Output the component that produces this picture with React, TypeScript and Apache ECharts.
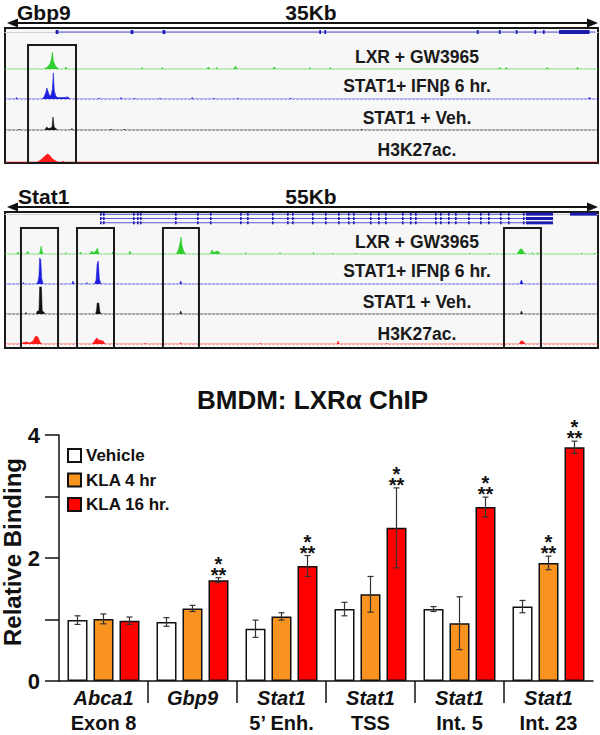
import React, { useEffect, useRef } from "react";
import * as echarts from "echarts";

const FONT = "'Liberation Sans', Arial, Helvetica, sans-serif";

// ---------------- Genome browser: Gbp9 locus (35 kb window) ----------------
const gbp9WindowKb = 35;
const gbp9Highlights = [[1.36, 4.19]];
const gbp9GeneSpan = [2.95, 34.82];
const gbp9Exons = [[3.0, 3.15], [7.42, 7.58], [9.3, 9.46], [18.55, 18.65], [18.85, 18.95], [27.85, 27.95], [29.15, 29.25], [30.15, 30.25], [31.25, 31.35], [31.75, 31.85], [32.7, 34.5]];
const gbp9Lxr = [[0,0],[2.3,0],[2.5,2],[2.65,5],[2.74,10],[2.8,17],[2.86,8],[2.98,3],[3.1,1],[3.2,0],[3.52,0],[3.6,2],[3.68,0],[8.05,0],[8.1,1.5],[8.15,0],[9.25,0],[9.3,1.5],[9.35,0],[11.9,0],[12.0,2],[12.1,0],[12.45,0],[12.5,1.5],[12.55,0],[13.5,0],[13.6,3],[13.7,0],[15.8,0],[15.9,2],[16.0,0],[17.95,0],[18.0,1.5],[18.05,0],[19.15,0],[19.2,1.5],[19.25,0],[29.1,0],[29.2,1.5],[29.3,0],[29.5,0],[29.6,1.5],[29.7,0],[31.9,0],[32.0,1.5],[32.1,0],[33.7,0],[33.8,1.5],[33.9,0],[35,0]];
const gbp9Stat1Ifn = [[0,0],[0.62,0],[0.68,1.5],[0.74,0],[2.2,0],[2.3,2],[2.4,6],[2.47,11],[2.55,7],[2.63,3],[2.72,4],[2.8,10],[2.85,26],[2.91,8],[3.0,3],[3.1,1.5],[3.5,1.5],[3.7,2],[3.85,0],[5.5,0],[5.55,1],[5.6,0],[6.8,0],[6.85,1.5],[6.9,0],[7.6,0],[7.65,1],[7.7,0],[9.1,0],[9.15,1],[9.2,0],[11.0,0],[11.05,1.5],[11.1,0],[12.3,0],[12.35,1],[12.4,0],[13.7,0],[13.75,1],[13.8,0],[16.8,0],[16.85,1],[16.9,0],[34.4,0],[34.5,1.5],[34.6,0],[35,0]];
const gbp9Stat1Veh = [[0,0],[0.8,0],[0.85,1],[0.9,0],[2.35,0],[2.46,3],[2.56,1.5],[2.7,2],[2.78,3],[2.83,13],[2.9,3],[3.0,1.5],[3.1,0],[3.9,0],[3.95,1.5],[4.0,0],[6.2,0],[6.25,1],[6.3,0],[7.0,0],[7.05,1],[7.1,0],[21.0,0],[21.05,1],[21.1,0],[35,0]];
const gbp9H3k27ac = [[0,0],[1.9,0],[2.1,2],[2.3,5],[2.5,8],[2.62,7],[2.8,3],[3.0,1],[3.13,0],[3.35,0],[3.42,1],[3.5,0],[35,0]];

// ---------------- Genome browser: Stat1 locus (55 kb window) ----------------
const stat1WindowKb = 55;
const stat1Highlights = [[1.48, 4.92], [6.68, 10.11], [14.65, 17.99], [46.28, 49.71]];
const stat1GeneSpan = [8.81, 48.32];
const stat1Transcripts = [0, 1, 2];
const stat1ExonPos = [8.81, 9.09, 11.87, 12.24, 12.52, 15.77, 17.81, 19.01, 21.8, 22.45, 24.76, 26.16, 26.62, 28.47, 29.68, 30.89, 31.81, 32.28, 33.85, 34.6, 35.25, 36.82, 37.56, 38.03, 39.88, 40.35, 41.09, 41.74, 42.95, 44.06, 44.8, 45.91, 46.65, 48.04];
const stat1LastExon = [48.32, 50.83];
const stat1NeighbourGene = [52.4, 54.9];
const stat1Lxr = [[0,0],[1.1,0],[1.2,2],[1.3,0],[2.0,0],[2.1,3],[2.2,0],[3.15,0],[3.25,2],[3.3,5],[3.36,8],[3.42,3],[3.55,0],[5.6,0],[5.65,1.5],[5.7,0],[6.9,0],[7.0,2],[7.1,0],[7.85,0],[8.05,3],[8.2,1],[8.5,4],[8.58,6],[8.66,2],[8.75,0],[9.9,0],[10.0,2],[10.1,0],[11.5,0],[11.6,3],[11.7,0],[15.9,0],[16.1,5],[16.25,12],[16.33,17],[16.42,8],[16.6,2],[16.8,0],[19.05,0],[19.2,4],[19.35,1.5],[19.7,3],[19.85,2],[19.95,0],[22.3,0],[22.35,1.5],[22.4,0],[25.45,0],[25.5,1.5],[25.55,0],[28.55,0],[28.6,1.5],[28.65,0],[30.35,0],[30.4,1],[30.45,0],[32.45,0],[32.5,1],[32.55,0],[43.05,0],[43.1,1],[43.15,0],[44.95,0],[45.0,1],[45.05,0],[47.5,0],[47.65,3],[47.8,5],[47.95,5],[48.1,2],[48.3,0],[48.85,0],[48.9,1.5],[48.95,0],[49.35,0],[49.4,1.5],[49.45,0],[53.45,0],[53.5,1],[53.55,0],[54.65,0],[54.7,1],[54.75,0],[55,0]];
const stat1Stat1Ifn = [[0,0],[1.65,0],[1.7,1.5],[1.75,0],[2.9,0],[3.05,2],[3.15,8],[3.22,26],[3.32,24],[3.4,6],[3.5,1],[3.6,0],[6.2,0],[6.3,3],[6.4,0],[7.55,0],[7.6,1.5],[7.65,0],[8.3,0],[8.45,4],[8.55,20],[8.65,23],[8.75,5],[8.9,0],[16.2,0],[16.3,3],[16.4,0],[47.75,0],[47.9,4],[48.05,0],[55,0]];
const stat1Stat1Veh = [[0,0],[1.9,0],[1.95,1.5],[2.0,0],[2.9,0],[3.0,3],[3.15,3],[3.22,27],[3.38,27],[3.45,3],[3.6,2],[3.7,0],[8.4,0],[8.5,4],[8.55,11],[8.7,11],[8.78,3],[8.9,0],[16.2,0],[16.3,3],[16.4,0],[47.8,0],[47.9,3],[48.0,0],[55,0]];
const stat1H3k27ac = [[0,0],[1.5,0],[1.7,1.5],[2.0,2],[2.3,1],[2.6,3],[2.85,8],[3.05,7],[3.25,2],[3.4,0],[8.1,0],[8.3,3],[8.5,6],[8.7,4],[9.1,3],[9.3,0],[12.95,0],[13.0,1],[13.05,0],[16.25,0],[16.3,1.5],[16.35,0],[23.65,0],[23.7,1],[23.75,0],[30.8,0],[30.9,3],[31.0,0],[35.35,0],[35.4,1],[35.45,0],[47.7,0],[47.85,3],[48.0,3],[48.15,1.5],[48.3,0],[55,0]];

const trackNames = ["LXR + GW3965", "STAT1+ IFN\u03b2 6 hr.", "STAT1 + Veh.", "H3K27ac."];
const trackColors = ["#2fcf2f", "#1f1fe0", "#111111", "#ff1a1a"];

// ---------------- Bar chart ----------------
const geneNames = ["Abca1", "Gbp9", "Stat1", "Stat1", "Stat1", "Stat1"];
const regionNames = ["Exon 8", "", "5\u2019 Enh.", "TSS", "Int. 5", "Int. 23"];
const seriesNames = ["Vehicle", "KLA 4 hr", "KLA 16 hr."];
const vehicle = [0.99, 0.96, 0.85, 1.17, 1.17, 1.21];
const vehicleErr = [0.07, 0.07, 0.14, 0.11, 0.04, 0.1];
const kla4 = [1.01, 1.18, 1.05, 1.41, 0.94, 1.92];
const kla4Err = [0.08, 0.05, 0.06, 0.29, 0.43, 0.11];
const kla16 = [0.98, 1.64, 1.87, 2.49, 2.83, 3.8];
const kla16Err = [0.06, 0.04, 0.17, 0.65, 0.16, 0.1];
const kla4Sig = [false, false, false, false, false, true];
const kla16Sig = [false, true, true, true, true, true];
const yTickLabels = [0, 2, 4];

const barColors = ["#ffffff", "#f7931e", "#ff0000"];

function buildOption() {
  const grids: any[] = [];
  const xAxes: any[] = [];
  const yAxes: any[] = [];
  const series: any[] = [];
  const graphics: any[] = [];

  const addGrid = (g: any, x: any, y: any) => {
    grids.push(g);
    xAxes.push({ ...x, gridIndex: grids.length - 1 });
    yAxes.push({ ...y, gridIndex: grids.length - 1 });
    return grids.length - 1;
  };

  const panel = (cfg: any) => {
    const L = 5, W = 593;
    graphics.push({ type: "rect", z: 0, shape: { x: L, y: cfg.frameTop, width: W, height: cfg.frameH }, style: { fill: "#f7f7f7", stroke: "#1a1a1a", lineWidth: 2 } });
    graphics.push({ type: "text", x: cfg.nameX, y: cfg.headerY, style: { text: cfg.name, font: `bold 21px ${FONT}`, fill: "#111", align: "left", verticalAlign: "middle" } });
    graphics.push({ type: "text", x: 311, y: cfg.headerY, style: { text: cfg.span, font: `bold 21px ${FONT}`, fill: "#111", align: "center", verticalAlign: "middle" } });
    const ay = cfg.arrowY;
    graphics.push({ type: "line", shape: { x1: 14, y1: ay, x2: 590, y2: ay }, style: { stroke: "#111", lineWidth: 2 } });
    graphics.push({ type: "polygon", shape: { points: [[7, ay], [18, ay - 4.5], [18, ay + 4.5]] }, style: { fill: "#111" } });
    graphics.push({ type: "polygon", shape: { points: [[598, ay], [587, ay - 4.5], [587, ay + 4.5]] }, style: { fill: "#111" } });

    const rows = cfg.rows;
    const gi = addGrid(
      { left: L, width: W, top: cfg.geneTop, height: cfg.geneH },
      { type: "value", min: 0, max: cfg.window, axisLine: { show: true, lineStyle: { color: "#cfcfd8", width: 1 } }, axisTick: { show: false }, axisLabel: { show: false }, splitLine: { show: false } },
      { type: "value", min: -0.5, max: rows - 0.5, inverse: true, show: false }
    );
    const exonH = cfg.exonH;
    series.push({
      type: "custom", xAxisIndex: gi, yAxisIndex: gi, silent: true, z: 3,
      encode: { x: [0, 1], y: 2 },
      data: cfg.geneData,
      renderItem: (params: any, api: any) => {
        const s = api.coord([api.value(0), api.value(2)]);
        const e = api.coord([api.value(1), api.value(2)]);
        const h = api.value(3) === 1 ? exonH : 1;
        return { type: "rect", shape: { x: s[0], y: s[1] - h / 2, width: Math.max(e[0] - s[0], 1.6), height: h }, style: { fill: api.value(3) === 1 ? "#1c1cb0" : "#5a5ad0" } };
      },
    });

    cfg.tracks.forEach((data: number[][], i: number) => {
      const bottom = cfg.baselines[i];
      const ti = addGrid(
        { left: L, width: W, top: bottom - 28, height: 28 },
        { type: "value", min: 0, max: cfg.window, axisLine: { show: true, lineStyle: { color: trackColors[i], width: 1, type: [1, 3], opacity: 0.45 } }, axisTick: { show: false }, axisLabel: { show: false }, splitLine: { show: false } },
        { type: "value", min: 0, max: 28, show: false }
      );
      series.push({
        type: "line", xAxisIndex: ti, yAxisIndex: ti, data, symbol: "none", silent: true, z: 3,
        lineStyle: { width: 0.6, color: trackColors[i] },
        areaStyle: { color: trackColors[i], opacity: 1 },
      });
      graphics.push({ type: "text", x: 417, y: cfg.labelY[i], style: { text: trackNames[i], font: `bold 17.5px ${FONT}`, fill: "#1a1a1a", align: "center", verticalAlign: "middle" } });
    });

    const bi = addGrid(
      { left: L, width: W, top: cfg.boxTop, height: cfg.frameTop + cfg.frameH - cfg.boxTop },
      { type: "value", min: 0, max: cfg.window, show: false },
      { type: "value", min: 0, max: 1, show: false }
    );
    series.push({
      type: "custom", xAxisIndex: bi, yAxisIndex: bi, silent: true, z: 4,
      encode: { x: [0, 1] },
      data: cfg.highlights,
      renderItem: (params: any, api: any) => {
        const a = api.coord([api.value(0), 1]);
        const b = api.coord([api.value(1), 0]);
        return { type: "rect", shape: { x: a[0], y: a[1], width: b[0] - a[0], height: b[1] - a[1] }, style: { fill: "none", stroke: "#1a1a1a", lineWidth: 2 } };
      },
    });
  };

  const gbp9Gene: any[] = [[gbp9GeneSpan[0], gbp9GeneSpan[1], 0, 0], ...gbp9Exons.map((e) => [e[0], e[1], 0, 1])];
  panel({
    name: "Gbp9", span: "35Kb", nameX: 17, headerY: 12, arrowY: 23,
    frameTop: 28, frameH: 135, geneTop: 25, geneH: 14, rows: 1, exonH: 4,
    window: gbp9WindowKb, geneData: gbp9Gene,
    tracks: [gbp9Lxr, gbp9Stat1Ifn, gbp9Stat1Veh, gbp9H3k27ac],
    baselines: [69, 99, 130, 162], labelY: [57, 86, 118, 150],
    boxTop: 45, highlights: gbp9Highlights,
  });

  const stat1Gene: any[] = [];
  stat1Transcripts.forEach((r) => {
    stat1Gene.push([stat1GeneSpan[0], stat1GeneSpan[1], r, 0]);
    stat1ExonPos.forEach((p) => stat1Gene.push([p, p + 0.12, r, 1]));
    stat1Gene.push([stat1LastExon[0], stat1LastExon[1], r, 1]);
  });
  stat1Gene.push([stat1NeighbourGene[0], stat1NeighbourGene[1], 0, 1]);
  panel({
    name: "Stat1", span: "55Kb", nameX: 18, headerY: 196, arrowY: 207,
    frameTop: 212, frameH: 136, geneTop: 212, geneH: 13, rows: 3, exonH: 3,
    window: stat1WindowKb, geneData: stat1Gene,
    tracks: [stat1Lxr, stat1Stat1Ifn, stat1Stat1Veh, stat1H3k27ac],
    baselines: [254, 284, 314, 344], labelY: [242, 271, 302, 334],
    boxTop: 228, highlights: stat1Highlights,
  });

  // ---------------- bar chart ----------------
  const categories = geneNames.map((g, i) => `${g} ${regionNames[i]}`);
  const bi = addGrid(
    { left: 59, width: 534, top: 435, height: 246 },
    {
      type: "category", data: categories,
      axisLine: { show: true, lineStyle: { color: "#111", width: 1.5 } },
      axisTick: { show: false },
      axisLabel: {
        interval: 0, margin: 4, color: "#111",
        formatter: (v: string, i: number) => `{g|${geneNames[i]}}\n{r|${regionNames[i] || " "}}`,
        rich: {
          g: { fontFamily: FONT, fontSize: 20, fontWeight: "bold", fontStyle: "italic", lineHeight: 25, color: "#111" },
          r: { fontFamily: FONT, fontSize: 20, fontWeight: "bold", lineHeight: 25, color: "#111" },
        },
      },
    },
    {
      type: "value", min: 0, max: 4, interval: 1,
      axisLine: { show: true, lineStyle: { color: "#111", width: 1.5 } },
      axisTick: { show: true, length: 14, lineStyle: { color: "#111", width: 1.5 } },
      axisLabel: { margin: 19, color: "#111", fontFamily: FONT, fontSize: 22, fontWeight: "bold", formatter: (v: number) => (yTickLabels.includes(v) ? String(v) : "") },
      splitLine: { show: false },
    }
  );
  const values = [vehicle, kla4, kla16];
  const errs = [vehicleErr, kla4Err, kla16Err];
  const sigs = [null, kla4Sig, kla16Sig];
  values.forEach((vals, k) => {
    series.push({
      type: "bar", name: seriesNames[k], xAxisIndex: bi, yAxisIndex: bi, data: vals,
      barWidth: 20, barGap: "30%",
      itemStyle: { color: barColors[k], borderColor: "#111", borderWidth: 1.5 },
    });
  });
  const errData: any[] = [];
  const starData: any[] = [];
  values.forEach((vals, k) => vals.forEach((v, i) => {
    errData.push([i, k, v, errs[k][i]]);
    const s = sigs[k];
    if (s && s[i]) starData.push([i, k, v + errs[k][i]]);
  }));
  series.push({
    type: "custom", xAxisIndex: bi, yAxisIndex: bi, silent: true, z: 5,
    encode: { x: 0, y: 2 }, data: errData,
    renderItem: (params: any, api: any) => {
      const cat = api.value(0), grp = api.value(1), v = api.value(2), e = api.value(3);
      const hi = api.coord([cat, v + e]);
      const lo = api.coord([cat, v - e]);
      const x = hi[0] + (grp - 1) * 26;
      const st = { stroke: "#333", lineWidth: 1.2 };
      return {
        type: "group", children: [
          { type: "line", shape: { x1: x, y1: hi[1], x2: x, y2: lo[1] }, style: st },
          { type: "line", shape: { x1: x - 3, y1: hi[1], x2: x + 3, y2: hi[1] }, style: st },
          { type: "line", shape: { x1: x - 3, y1: lo[1], x2: x + 3, y2: lo[1] }, style: st },
        ],
      };
    },
  });
  series.push({
    type: "custom", xAxisIndex: bi, yAxisIndex: bi, silent: true, z: 5,
    encode: { x: 0, y: 2 }, data: starData,
    renderItem: (params: any, api: any) => {
      const p = api.coord([api.value(0), api.value(2)]);
      const x = p[0] + (api.value(1) - 1) * 26;
      return {
        type: "text", x, y: p[1] + 2.5,
        style: { text: "*\n**", font: `bold 20px ${FONT}`, lineHeight: 11, fill: "#111", align: "center", verticalAlign: "bottom" },
      };
    },
  });
  series.push({
    type: "custom", xAxisIndex: bi, yAxisIndex: bi, silent: true, z: 5,
    encode: { x: 0, y: 1 }, data: [0, 1, 2, 3, 4].map((i) => [i, 0]),
    renderItem: (params: any, api: any) => {
      const p = api.coord([api.value(0), 0]);
      const bw = api.size([1, 0])[0];
      const x = p[0] + bw / 2;
      return { type: "line", shape: { x1: x, y1: p[1], x2: x, y2: p[1] + 22 }, style: { stroke: "#111", lineWidth: 1.5 } };
    },
  });

  graphics.push({ type: "text", x: 12, y: 552, rotation: Math.PI / 2, style: { text: "Relative Binding", font: `bold 24px ${FONT}`, fill: "#111", align: "center", verticalAlign: "middle" } });

  return {
    animation: false,
    backgroundColor: "#ffffff",
    title: { text: "BMDM: LXR\u03b1 ChIP", left: 197, top: 387, padding: 0, textStyle: { fontFamily: FONT, fontSize: 26, fontWeight: "bold", color: "#111" } },
    legend: {
      data: seriesNames, orient: "vertical", left: 67, top: 447, padding: 0,
      itemWidth: 13, itemHeight: 13, itemGap: 7.5, icon: "rect", selectedMode: false,
      textStyle: { fontFamily: FONT, fontSize: 17, fontWeight: "bold", color: "#111" },
    },
    grid: grids,
    xAxis: xAxes,
    yAxis: yAxes,
    series,
    graphic: { elements: graphics },
  };
}

export default function App() {
  const ref = useRef<HTMLDivElement>(null);
  useEffect(() => {
    if (!ref.current) return;
    const chart = echarts.init(ref.current, undefined, { renderer: "svg" });
    chart.setOption(buildOption() as any);
    return () => chart.dispose();
  }, []);
  return <div ref={ref} style={{ position: "absolute", left: 0, top: 0, width: 600, height: 735 }} />;
}
